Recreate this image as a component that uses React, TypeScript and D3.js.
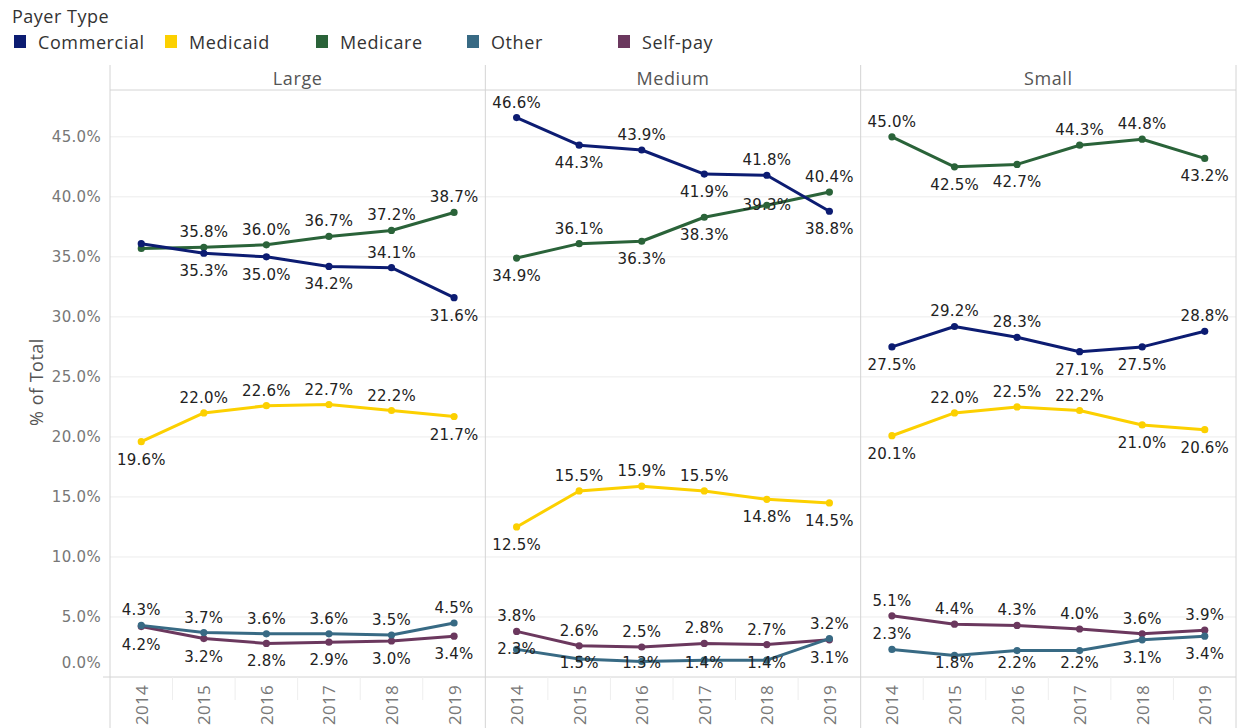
import React from 'react';
import * as d3 from 'd3';

const years = ['2014', '2015', '2016', '2017', '2018', '2019'];
const sizes = ['Large', 'Medium', 'Small'];
const payers = ['Commercial', 'Medicaid', 'Medicare', 'Other', 'Self-pay'];
const payerColors = ['#0c1c72', '#fcd000', '#2a6339', '#386a84', '#6b385e'];
const yTicks = [0, 5, 10, 15, 20, 25, 30, 35, 40, 45];

// values, % of total — per size, per payer
const largeCommercial = [36.1, 35.3, 35.0, 34.2, 34.1, 31.6];
const largeMedicaid = [19.6, 22.0, 22.6, 22.7, 22.2, 21.7];
const largeMedicare = [35.7, 35.8, 36.0, 36.7, 37.2, 38.7];
const largeOther = [4.3, 3.7, 3.6, 3.6, 3.5, 4.5];
const largeSelfPay = [4.2, 3.2, 2.8, 2.9, 3.0, 3.4];

const mediumCommercial = [46.6, 44.3, 43.9, 41.9, 41.8, 38.8];
const mediumMedicaid = [12.5, 15.5, 15.9, 15.5, 14.8, 14.5];
const mediumMedicare = [34.9, 36.1, 36.3, 38.3, 39.3, 40.4];
const mediumOther = [2.3, 1.5, 1.3, 1.4, 1.4, 3.2];
const mediumSelfPay = [3.8, 2.6, 2.5, 2.8, 2.7, 3.1];

const smallCommercial = [27.5, 29.2, 28.3, 27.1, 27.5, 28.8];
const smallMedicaid = [20.1, 22.0, 22.5, 22.2, 21.0, 20.6];
const smallMedicare = [45.0, 42.5, 42.7, 44.3, 44.8, 43.2];
const smallOther = [2.3, 1.8, 2.2, 2.2, 3.1, 3.4];
const smallSelfPay = [5.1, 4.4, 4.3, 4.0, 3.6, 3.9];

// label placement: a = above, b = below, c = centred, - = hidden
const largeLabels = ['-bbbab', 'baaaab', '-aaaaa', 'aaaaaa', 'bbbbbb'];
const mediumLabels = ['ababab', 'baaabb', 'babbca', 'cbbbba', 'aaaaab'];
const smallLabels = ['baabba', 'baaabb', 'abbaab', 'abbbbb', 'aaaaaa'];

const sizeValues = [
  [largeCommercial, largeMedicaid, largeMedicare, largeOther, largeSelfPay],
  [mediumCommercial, mediumMedicaid, mediumMedicare, mediumOther, mediumSelfPay],
  [smallCommercial, smallMedicaid, smallMedicare, smallOther, smallSelfPay],
];
const sizeLabels = [largeLabels, mediumLabels, smallLabels];

const W = 1241;
const H = 728;
const paneX0 = 110;
const paneX1 = 1236;
const headerTop = 65;
const plotTop = 90;
const plotBottom = 677;

const labelFont = 'DejaVu Sans, Verdana, sans-serif';
const uiFont = '"Open Sans", "Noto Sans", sans-serif';

export default function App() {
  const paneScale = d3.scaleBand<string>().domain(sizes).range([paneX0, paneX1]).padding(0);
  const paneW = paneScale.bandwidth();
  const y = d3.scaleLinear().domain([0, 48.9]).range([plotBottom, plotTop]);
  const fmt = d3.format('.1f');
  const drawOrder = [4, 3, 2, 1, 0];

  return (
    <svg width={W} height={H} style={{ position: 'absolute', left: 0, top: 0, background: '#fff' }}>
      {/* legend */}
      <text x={12} y={23} fontFamily={uiFont} fontSize={18} letterSpacing={0.5} fill="#333">
        Payer Type
      </text>
      {payers.map((p, i) => (
        <g key={p} transform={`translate(${14 + i * 151},0)`}>
          <rect x={0} y={35} width={12} height={13} fill={payerColors[i]} />
          <text x={24} y={48.5} fontFamily={uiFont} fontSize={18} letterSpacing={0.6} fill="#333">
            {p}
          </text>
        </g>
      ))}

      {/* y axis */}
      <text
        transform={`translate(36,382) rotate(-90)`}
        textAnchor="middle"
        dominantBaseline="central"
        fontFamily={uiFont}
        fontSize={18}
        letterSpacing={0.5}
        fill="#555"
      >
        % of Total
      </text>
      {yTicks.map((t) => (
        <text
          key={t}
          x={101}
          y={Math.min(y(t), plotBottom - 14)}
          textAnchor="end"
          dominantBaseline="central"
          fontFamily={labelFont}
          fontSize={15}
          letterSpacing={0.3}
          fill="#777"
        >
          {fmt(t)}%
        </text>
      ))}

      {/* gridlines */}
      {yTicks
        .filter((t) => t > 0)
        .map((t) => (
          <line key={t} x1={paneX0} x2={paneX1} y1={y(t)} y2={y(t)} stroke="#ececec" strokeWidth={1} />
        ))}
      <line x1={paneX0} x2={paneX1} y1={plotTop} y2={plotTop} stroke="#d4d4d4" strokeWidth={1} />
      <line x1={103} x2={paneX1} y1={plotBottom} y2={plotBottom} stroke="#d4d4d4" strokeWidth={1} />

      {sizes.map((s, si) => {
        const px = paneScale(s)!;
        const x = d3.scalePoint<string>().domain(years).range([px, px + paneW]).padding(0.5);
        const step = x.step();
        return (
          <g key={s}>
            <line x1={px} x2={px} y1={headerTop} y2={H} stroke="#d4d4d4" strokeWidth={1} />
            <text
              x={px + paneW / 2}
              y={78}
              textAnchor="middle"
              dominantBaseline="central"
              fontFamily={uiFont}
              fontSize={18}
              letterSpacing={0.6}
              fill="#555"
            >
              {s}
            </text>
            {years.slice(1).map((yr) => (
              <line
                key={yr}
                x1={x(yr)! - step / 2}
                x2={x(yr)! - step / 2}
                y1={plotBottom}
                y2={700}
                stroke="#eeeeee"
                strokeWidth={1}
              />
            ))}
            {years.map((yr) => (
              <text
                key={yr}
                transform={`translate(${x(yr)},685) rotate(-90)`}
                textAnchor="end"
                dominantBaseline="central"
                fontFamily={uiFont}
                fontSize={17}
                letterSpacing={0.3}
                fill="#777"
              >
                {yr}
              </text>
            ))}
            {drawOrder.map((pi) => {
              const vals = sizeValues[si][pi];
              const path = d3
                .line<number>()
                .x((_, i) => x(years[i])!)
                .y((d) => y(d))(vals);
              return (
                <g key={pi}>
                  <path d={path || ''} fill="none" stroke={payerColors[pi]} strokeWidth={3} strokeLinejoin="round" />
                  {vals.map((v, i) => (
                    <circle key={i} cx={x(years[i])} cy={y(v)} r={3.6} fill={payerColors[pi]} />
                  ))}
                </g>
              );
            })}
            {payers.map((p, pi) =>
              sizeValues[si][pi].map((v, i) => {
                const pos = sizeLabels[si][pi][i];
                if (pos === '-') return null;
                const lw = 50;
                let cx = x(years[i])!;
                cx = Math.max(px + 2 + lw / 2, Math.min(px + paneW - 3 - lw / 2, cx));
                let cy = y(v) + (pos === 'a' ? -15 : pos === 'b' ? 18 : 0);
                cy = Math.min(cy, plotBottom - 14);
                return (
                  <text
                    key={`${pi}-${i}`}
                    x={cx}
                    y={cy}
                    textAnchor="middle"
                    dominantBaseline="central"
                    fontFamily={labelFont}
                    fontSize={15}
                    letterSpacing={0.2}
                    fill="#222"
                  >
                    {fmt(v)}%
                  </text>
                );
              })
            )}
          </g>
        );
      })}
      <line x1={paneX1} x2={paneX1} y1={headerTop} y2={H} stroke="#d4d4d4" strokeWidth={1} />
    </svg>
  );
}
